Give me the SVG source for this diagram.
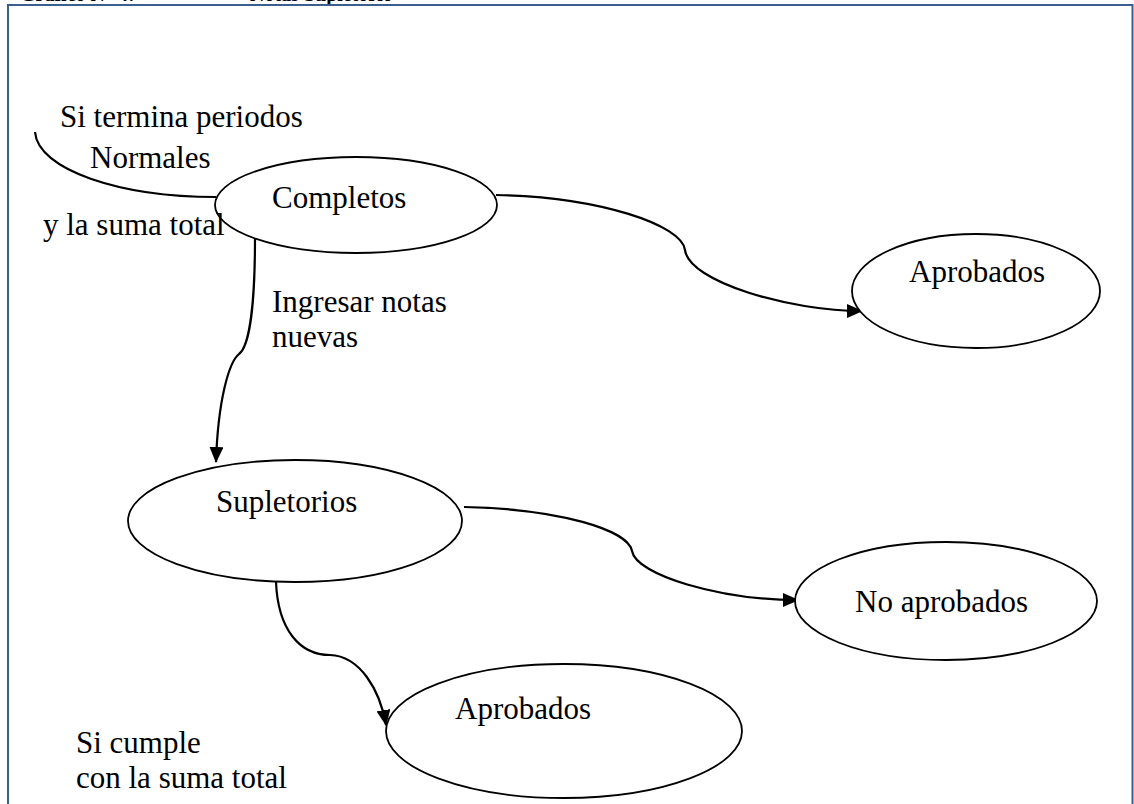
<svg xmlns="http://www.w3.org/2000/svg" width="1134" height="804" viewBox="0 0 1134 804">
  <defs>
    <marker id="arrow" markerUnits="userSpaceOnUse" markerWidth="16" markerHeight="14" viewBox="0 0 16 14" refX="15" refY="7" orient="auto">
      <path d="M0,0 L16,7 L0,14 Z" fill="#000"/>
    </marker>
    <style>
      .node { fill: #fff; stroke: #000; stroke-width: 1.8; }
      .label { font-family: "Liberation Serif", "Times New Roman", serif; font-size: 31px; fill: #000; }
      .title { font-family: "Liberation Serif", "Times New Roman", serif; font-size: 20px; font-weight: bold; fill: #000; }
      .link { fill: none; stroke: #000; stroke-width: 2.2; }
      .frame { fill: none; stroke: #3a5f8f; stroke-width: 2; }
    </style>
  </defs>

  <rect width="1134" height="804" fill="#fff"/>

  <!-- caption, clipped by the top of the page -->
  <text class="title" x="20" y="1">Gráfico N° 4: <tspan x="250">Notas Supletorio</tspan></text>

  <!-- frame (open at the bottom) -->
  <path class="frame" d="M8,804 V5 H1132.5 V804"/>

  <!-- connectors -->
  <g id="connectors">
    <path class="link" d="M35,132 C38,170 120,197 216,197"/>
    <path class="link" marker-end="url(#arrow)" d="M496,195 C600,197 682,225 685,250 C689,282 790,311 862,311"/>
    <path class="link" marker-end="url(#arrow)" d="M255,238 C255,300 250,346 239,354 C229,362 218,400 216,462"/>
    <path class="link" marker-end="url(#arrow)" d="M464,507 C560,509 628,530 632,551 C636,575 720,600 798,600"/>
    <path class="link" marker-end="url(#arrow)" d="M276,582 C278,630 300,655 330,655 C360,656 380,690 386,725"/>
  </g>

  <!-- nodes -->
  <g id="node-completos">
    <ellipse class="node" cx="356" cy="205" rx="141" ry="48"/>
    <text class="label" x="272" y="208">Completos</text>
  </g>

  <g id="node-aprobados-1">
    <ellipse class="node" cx="976" cy="291" rx="124" ry="57"/>
    <text class="label" x="909" y="282">Aprobados</text>
  </g>

  <g id="node-supletorios">
    <ellipse class="node" cx="295" cy="521" rx="167" ry="61"/>
    <text class="label" x="216" y="512">Supletorios</text>
  </g>

  <g id="node-no-aprobados">
    <ellipse class="node" cx="946" cy="601" rx="151" ry="59"/>
    <text class="label" x="855" y="612">No aprobados</text>
  </g>

  <g id="node-aprobados-2">
    <ellipse class="node" cx="564" cy="731" rx="178" ry="67"/>
    <text class="label" x="455" y="719">Aprobados</text>
  </g>

  <!-- free labels -->
  <g id="labels">
    <text class="label" x="60" y="127">Si termina periodos</text>
    <text class="label" x="90" y="168">Normales</text>
    <text class="label" x="43" y="235">y la suma total</text>
    <text class="label" x="272" y="312">Ingresar notas</text>
    <text class="label" x="272" y="347">nuevas</text>
    <text class="label" x="76" y="753">Si cumple</text>
    <text class="label" x="76" y="788">con la suma total</text>
  </g>
</svg>
